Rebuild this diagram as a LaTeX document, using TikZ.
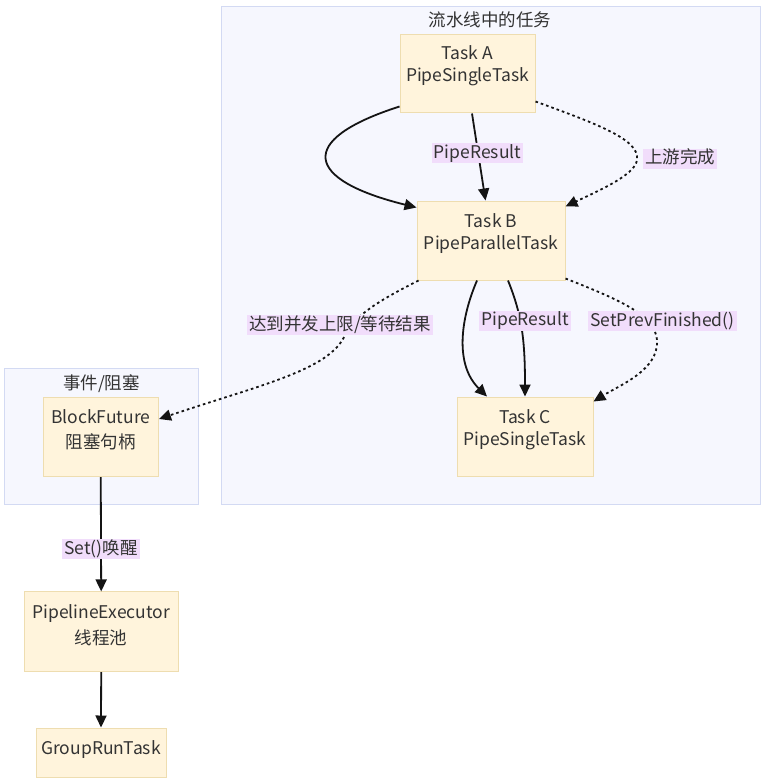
\documentclass[tikz,border=0pt]{standalone}
\usepackage{fontspec}
\setmainfont{Noto Sans CJK SC}
\usetikzlibrary{arrows.meta}
\definecolor{clfill}{HTML}{F6F7FE}
\definecolor{cldraw}{HTML}{D3DAF3}
\definecolor{nfill}{HTML}{FFF4DC}
\definecolor{ndraw}{HTML}{EEDDB0}
\definecolor{lfill}{HTML}{F1DDFB}
\definecolor{txtc}{HTML}{333333}
\begin{document}
\begin{tikzpicture}[x=1pt,y=-1pt,
  font=\fontsize{17.5}{21}\selectfont, text=txtc,
  cluster/.style={draw=cldraw, fill=clfill, line width=1pt, rectangle, inner sep=0pt, anchor=north west},
  box/.style={draw=ndraw, fill=nfill, line width=1pt, rectangle, inner sep=0pt},
  tt/.style={anchor=base, inner sep=0pt},
  elabel/.style={fill=lfill, inner xsep=2pt, inner ysep=1pt, text height=14pt, text depth=4pt},
  solidedge/.style={line width=1.8pt, draw=black!92, -{Triangle[length=12pt,width=11pt]}},
  dotedge/.style={solidedge, dash pattern=on 2.6pt off 3pt}]
\useasboundingbox (0,0) rectangle (764,781);
\fill[white] (0,0) rectangle (764,781);

% clusters
\node[cluster, minimum width=539pt, minimum height=498pt] (C1) at (221,6) {};
\node[tt] (C1t) at (490,27) {流水线中的任务};
\node[cluster, minimum width=194pt, minimum height=136pt] (C2) at (4,368) {};
\node[tt] (C2t) at (101.5,389) {事件/阻塞};

% nodes
\node[box, minimum width=135pt, minimum height=78pt] (A) at (467.5,74) {};
\node[tt] (A1) at (467.5,60) {Task A};
\node[tt] (A2) at (467.5,81.7) {PipeSingleTask};

\node[box, minimum width=148pt, minimum height=79pt] (B) at (491,240.5) {};
\node[tt] (B1) at (491,227.5) {Task B};
\node[tt] (B2) at (491,249.2) {PipeParallelTask};

\node[box, minimum width=136pt, minimum height=79pt] (C) at (525,436.5) {};
\node[tt] (Cc1) at (525,423.3) {Task C};
\node[tt] (Cc2) at (525,445) {PipeSingleTask};

\node[box, minimum width=115.5pt, minimum height=79.5pt] (BF) at (100.75,436.75) {};
\node[tt] (BF1) at (100.75,423.3) {BlockFuture};
\node[tt] (BF2) at (100.75,448.5) {阻塞句柄};

\node[box, minimum width=154.3pt, minimum height=79.7pt] (PE) at (101.2,631.8) {};
\node[tt] (PE1) at (101.2,618.7) {PipelineExecutor};
\node[tt] (PE2) at (101.2,644) {线程池};

\node[box, minimum width=130pt, minimum height=49pt] (G) at (101,752.5) {};
\node[tt] (G1) at (101,754) {GroupRunTask};

% edges A -> B
\draw[solidedge] ([yshift=7pt]A.south west) .. controls (295,140) and (305,180) .. ([yshift=-7pt]B.north west);
\draw[solidedge] ([xshift=4.5pt]A.south) -- ([xshift=-5.5pt]B.north);
\draw[dotedge] ([yshift=12pt]A.south east) .. controls (600,125) and (640,140) .. (637,160)
  .. controls (635,175) and (600,190) .. ([yshift=-6pt]B.north east);

% edges B -> C
\draw[solidedge] ([xshift=-14pt]B.south) .. controls (460,320) and (455,365) .. ([xshift=-38pt]C.north);
\draw[solidedge] ([xshift=17pt]B.south) .. controls (522,315) and (525,340) .. (C.north);
\draw[dotedge] ([yshift=2pt]B.south east) .. controls (620,300) and (655,315) .. (657,340)
  .. controls (659,370) and (620,385) .. ([yshift=-5pt]C.north east);

% B -> BlockFuture
\draw[dotedge] ([xshift=2pt]B.south west) .. controls (380,300) and (355,315) .. (345,335)
  .. controls (330,370) and (260,385) .. ([yshift=17.75pt]BF.east);

% left column
\draw[solidedge] (BF.south) -- (PE.north);
\draw[solidedge] (PE.south) -- (G.north);

% edge labels
\node[elabel] (L1) at (477.5,153) {PipeResult};
\node[elabel] (L2) at (680,158.5) {上游完成};
\node[elabel] (L3) at (340,325) {达到并发上限/等待结果};
\node[elabel] (L4) at (525,320.5) {PipeResult};
\node[elabel] (L5) at (662.5,321) {SetPrevFinished()};
\node[elabel] (L6) at (101,549) {Set()唤醒};
\end{tikzpicture}
\end{document}
